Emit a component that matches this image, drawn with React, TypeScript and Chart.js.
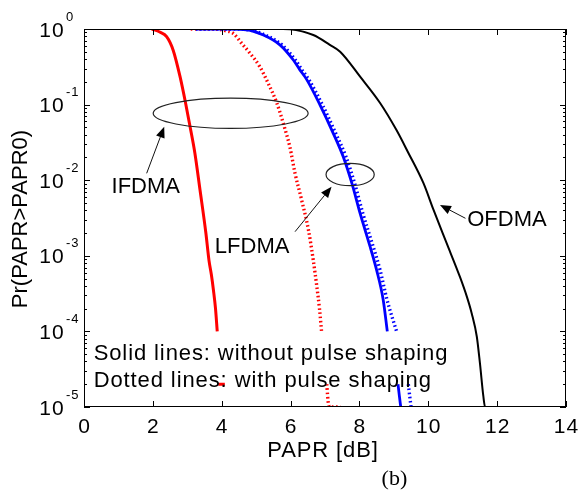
import React, { useEffect, useRef } from "react";
import { Chart, registerables } from "chart.js";
Chart.register(...registerables);

const W = 579;
const H = 496;

// ---- data (x = PAPR0 in dB, p = Pr(PAPR > PAPR0)); null = gap in the curve
const IFDMA_SOLID_X = [1.97, 2.2, 2.4, 2.59, 2.79, 2.95, 3.08, 3.22, 3.37, 3.54, 3.63, 3.7, 3.76, 3.82, 3.87, 3.87, 3.9, 4.09];
const IFDMA_SOLID_P = [1, 0.912, 0.794, 0.525, 0.234, 0.105, 0.0513, 0.0229, 0.00741, 0.002, 0.00087, 0.00056, 0.00035, 0.0002, 0.0001, null, 0.00002, 0.00002];

const IFDMA_DOT_X = [3.1, 3.8, 4.1, 4.34, 4.58, 4.82, 5.11, 5.35, 5.6, 5.79, 5.98, 6.13, 6.32, 6.52, 6.66, 6.76, 6.84, 6.9, 6.9, 7.05, 7.1, 7.15, 7.45];
const IFDMA_DOT_P = [1, 0.995, 0.95, 0.871, 0.646, 0.479, 0.316, 0.191, 0.105, 0.0562, 0.0275, 0.0123, 0.0055, 0.00219, 0.00087, 0.0004, 0.0002, 0.0001, null, 0.00002, 0.000011, 0.00001, 0.00001];

const LFDMA_SOLID_X = [3.25, 4.2, 4.72, 5.21, 5.69, 6.08, 6.27, 6.47, 6.85, 7.24, 7.53, 7.78, 8.02, 8.31, 8.5, 8.69, 8.81, 8.81, 9.12, 9.16, 9.2];
const LFDMA_SOLID_P = [1, 0.998, 0.977, 0.832, 0.617, 0.389, 0.288, 0.214, 0.1, 0.0417, 0.0204, 0.00912, 0.00363, 0.00132, 0.000646, 0.000263, 0.0001, null, 0.00002, 0.000014, 0.00001];

const LFDMA_DOT_X = [3.25, 4.25, 4.76, 5.26, 5.75, 6.14, 6.33, 6.53, 6.92, 7.31, 7.61, 7.86, 8.1, 8.4, 8.6, 8.8, 9.08, 9.08, 9.42, 9.46, 9.5];
const LFDMA_DOT_P = [1, 0.998, 0.977, 0.832, 0.617, 0.389, 0.288, 0.214, 0.1, 0.0417, 0.0204, 0.00912, 0.00363, 0.00132, 0.000646, 0.000263, 0.0001, null, 0.00002, 0.000014, 0.00001];

const OFDMA_X = [5.7, 5.98, 6.66, 7.14, 7.44, 8.02, 8.6, 9.08, 9.4, 9.86, 10.15, 10.53, 10.92, 11.12, 11.26, 11.41, 11.5, 11.6, 11.65, 11.72];
const OFDMA_P = [1, 0.99, 0.832, 0.617, 0.501, 0.234, 0.105, 0.0457, 0.024, 0.00912, 0.00407, 0.00148, 0.000525, 0.000288, 0.000174, 0.000085, 0.000038, 0.0000138, 0.00001, 0.00001];

// ---- axes
const X_TICKS = [0, 2, 4, 6, 8, 10, 12, 14];
const Y_EXPONENTS = [0, -1, -2, -3, -4, -5];
const X_TITLE = "PAPR [dB]";
const Y_TITLE = "Pr(PAPR>PAPR0)";
const CAPTION = "(b)";

// ---- annotations (data coordinates: x in dB, e = log10 of probability)
const ELLIPSES = [
  { cx: 4.26, ce: -1.115, rx: 2.25, re: 0.2 },
  { cx: 7.73, ce: -1.925, rx: 0.7, re: 0.148 },
];
const ARROWS = [
  { x0: 1.82, e0: -1.909, x1: 2.33, e1: -1.292 },
  { x0: 6.13, e0: -2.681, x1: 7.19, e1: -2.086 },
  { x0: 11.08, e0: -2.504, x1: 10.34, e1: -2.328 },
];
const LABELS = [
  { text: "IFDMA", x: 0.8, e: -2.173 },
  { text: "LFDMA", x: 3.8, e: -2.967 },
  { text: "OFDMA", x: 11.13, e: -2.606 },
];
const NOTES = [
  { text: "Solid lines: without pulse shaping", x: 0.28, e: -4.378 },
  { text: "Dotted lines: with pulse shaping", x: 0.28, e: -4.74 },
];

const SANS = '"Liberation Sans", Arial, Helvetica, sans-serif';

function pts(xs: number[], ps: (number | null)[]) {
  return xs.map((x, i) => ({ x, y: ps[i] }));
}

const decor = {
  id: "matlabDecor",
  afterDatasetsDraw(chart: any) {
    const { ctx, chartArea: a, scales } = chart;
    const xs = scales.x;
    const ys = scales.y;
    const P = (x: number, e: number) => [xs.getPixelForValue(x), ys.getPixelForValue(Math.pow(10, e))];
    ctx.save();

    // frame
    ctx.strokeStyle = "#000";
    ctx.lineWidth = 1;
    ctx.strokeRect(a.left + 0.5, a.top + 0.5, a.right - a.left - 1, a.bottom - a.top - 1);

    // x ticks (inside, top and bottom)
    ctx.beginPath();
    for (const v of X_TICKS) {
      const px = Math.round(xs.getPixelForValue(v)) + 0.5;
      ctx.moveTo(px, a.bottom);
      ctx.lineTo(px, a.bottom - 6);
      ctx.moveTo(px, a.top);
      ctx.lineTo(px, a.top + 6);
    }
    // y ticks (major + minor, both sides)
    for (const e of Y_EXPONENTS) {
      const py = Math.round(ys.getPixelForValue(Math.pow(10, e))) + 0.5;
      ctx.moveTo(a.left, py);
      ctx.lineTo(a.left + 6, py);
      ctx.moveTo(a.right, py);
      ctx.lineTo(a.right - 6, py);
      if (e > -5) {
        for (let m = 2; m <= 9; m++) {
          const qy = Math.round(ys.getPixelForValue(m * Math.pow(10, e - 1))) + 0.5;
          ctx.moveTo(a.left, qy);
          ctx.lineTo(a.left + 3, qy);
          ctx.moveTo(a.right, qy);
          ctx.lineTo(a.right - 3, qy);
        }
      }
    }
    ctx.stroke();

    ctx.fillStyle = "#000";
    (ctx as any).letterSpacing = "1px";
    // x tick labels
    ctx.font = `21px ${SANS}`;
    ctx.textAlign = "center";
    ctx.textBaseline = "alphabetic";
    for (const v of X_TICKS) {
      ctx.fillText(String(v), xs.getPixelForValue(v) + 0.5, a.bottom + 26);
    }
    // y tick labels 10^e
    for (const e of Y_EXPONENTS) {
      const py = ys.getPixelForValue(Math.pow(10, e));
      ctx.textAlign = "left";
      ctx.font = `21px ${SANS}`;
      ctx.fillText("10", a.left - 44.7, py + 7.5);
      ctx.font = `13px ${SANS}`;
      ctx.fillText(String(e), a.left - 18, py - 8.5);
    }

    // axis titles
    (ctx as any).letterSpacing = "0.9px";
    ctx.font = `22px ${SANS}`;
    ctx.textAlign = "center";
    ctx.fillText(X_TITLE, (a.left + a.right) / 2 - 2, a.bottom + 50);
    (ctx as any).letterSpacing = "0px";
    ctx.save();
    ctx.translate(a.left - 57.5, (a.top + a.bottom) / 2 + 1);
    ctx.rotate(-Math.PI / 2);
    ctx.fillText(Y_TITLE, 0, 0);
    ctx.restore();

    // ellipses
    ctx.strokeStyle = "#222";
    ctx.lineWidth = 1.2;
    for (const el of ELLIPSES) {
      const [cx, cy] = P(el.cx, el.ce);
      const rx = xs.getPixelForValue(el.cx + el.rx) - cx;
      const ry = ys.getPixelForValue(Math.pow(10, el.ce - el.re)) - cy;
      ctx.beginPath();
      ctx.ellipse(cx, cy, rx, ry, 0, 0, Math.PI * 2);
      ctx.stroke();
    }

    // arrows
    ctx.strokeStyle = "#111";
    ctx.fillStyle = "#000";
    ctx.lineWidth = 1;
    for (const ar of ARROWS) {
      const [x0, y0] = P(ar.x0, ar.e0);
      const [x1, y1] = P(ar.x1, ar.e1);
      const ang = Math.atan2(y1 - y0, x1 - x0);
      const L = 11;
      const hw = 4.5;
      const bx = x1 - L * Math.cos(ang);
      const by = y1 - L * Math.sin(ang);
      ctx.beginPath();
      ctx.moveTo(x0, y0);
      ctx.lineTo(bx, by);
      ctx.stroke();
      ctx.beginPath();
      ctx.moveTo(x1, y1);
      ctx.lineTo(bx + hw * Math.sin(ang), by - hw * Math.cos(ang));
      ctx.lineTo(bx - hw * Math.sin(ang), by + hw * Math.cos(ang));
      ctx.closePath();
      ctx.fill();
    }

    // labels
    ctx.font = `22px ${SANS}`;
    ctx.textAlign = "left";
    for (const lb of LABELS) {
      const [x, y] = P(lb.x, lb.e);
      ctx.fillText(lb.text, x, y);
    }
    (ctx as any).letterSpacing = "0.9px";
    for (const nt of NOTES) {
      const [x, y] = P(nt.x, nt.e);
      ctx.fillText(nt.text, x, y);
    }
    (ctx as any).letterSpacing = "0px";

    // caption
    ctx.font = `22px "Liberation Serif", "Times New Roman", serif`;
    ctx.textAlign = "center";
    ctx.fillText(CAPTION, a.left + (a.right - a.left) * 0.644, a.bottom + 78);

    ctx.restore();
  },
};

export default function App() {
  const ref = useRef<HTMLCanvasElement>(null);
  useEffect(() => {
    if (!ref.current) return;
    const solid = (c: string, w: number) => ({
      borderColor: c,
      backgroundColor: c,
      borderWidth: w,
      pointRadius: 0,
      cubicInterpolationMode: "monotone",
      fill: false,
      spanGaps: false,
    });
    const dotted = (c: string) => ({
      ...solid(c, 3.4),
      borderDash: [1.6, 2.6],
      borderCapStyle: "butt",
    });
    const chart = new Chart(ref.current, {
      type: "line",
      data: {
        datasets: [
          { label: "OFDMA", data: pts(OFDMA_X, OFDMA_P), ...solid("#000000", 2), order: 1 },
          { label: "LFDMA", data: pts(LFDMA_SOLID_X, LFDMA_SOLID_P), ...solid("#0000ff", 2.8), order: 2 },
          { label: "LFDMA (pulse shaping)", data: pts(LFDMA_DOT_X, LFDMA_DOT_P), ...dotted("#0000ff"), order: 3 },
          { label: "IFDMA", data: pts(IFDMA_SOLID_X, IFDMA_SOLID_P), ...solid("#ff0000", 3), order: 4 },
          { label: "IFDMA (pulse shaping)", data: pts(IFDMA_DOT_X, IFDMA_DOT_P), ...dotted("#ff0000"), order: 5 },
        ] as any,
      },
      options: {
        animation: false,
        responsive: false,
        maintainAspectRatio: false,
        layout: { padding: { left: 84, top: 29, right: 13, bottom: 89 } },
        plugins: { legend: { display: false }, tooltip: { enabled: false }, title: { display: false } },
        scales: {
          x: { type: "linear", min: 0, max: 14, display: false },
          y: { type: "logarithmic", min: 1e-5, max: 1, display: false },
        },
      } as any,
      plugins: [decor],
    });
    return () => chart.destroy();
  }, []);
  return (
    <div style={{ position: "fixed", left: 0, top: 0, width: W, height: H, background: "#fff" }}>
      <canvas ref={ref} width={W} height={H} style={{ display: "block" }} />
    </div>
  );
}
